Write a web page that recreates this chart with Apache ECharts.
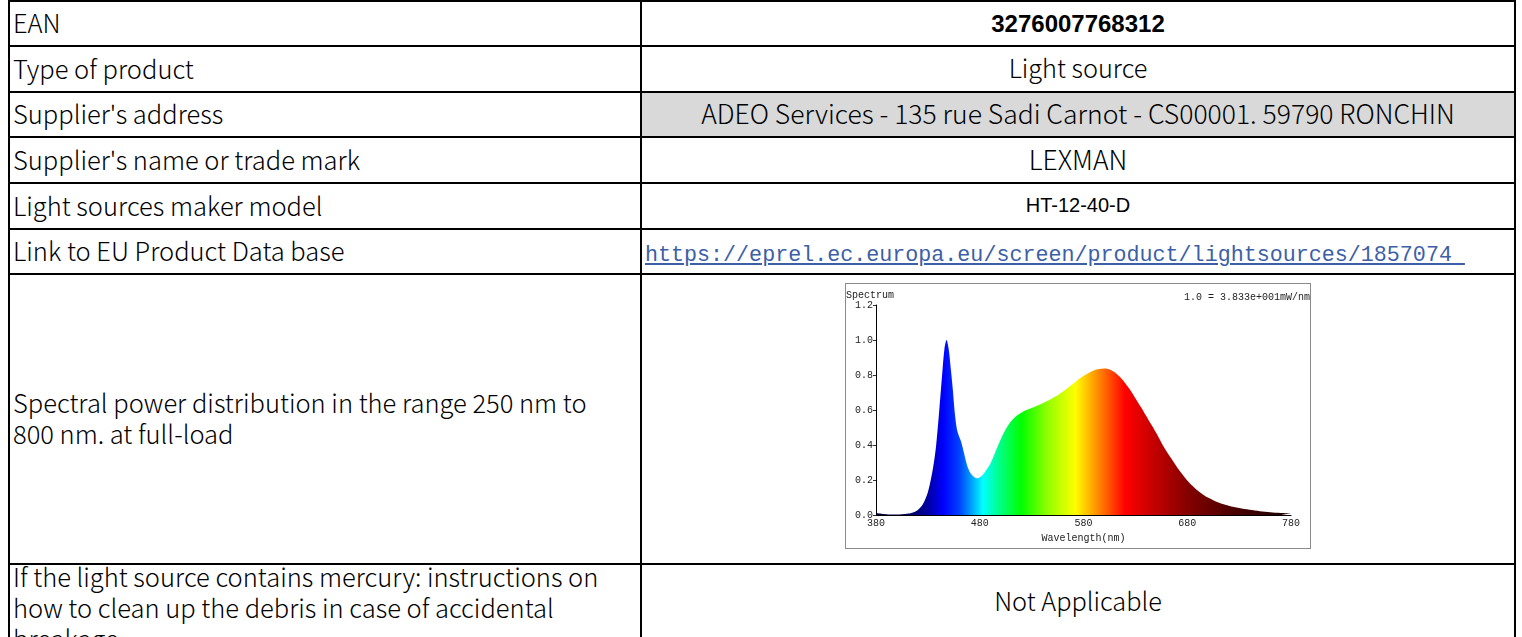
<!DOCTYPE html>
<html>
<head>
<meta charset="utf-8">
<script src="https://cdn.jsdelivr.net/npm/echarts@6/dist/echarts.min.js"></script>
<style>
html,body{margin:0;padding:0;background:#fff;width:1522px;height:637px;overflow:hidden;}
.hl{position:absolute;background:#000;height:2px;}
.vl{position:absolute;background:#000;width:2px;}
.cell{position:absolute;display:flex;align-items:center;box-sizing:border-box;}
.left{font-family:"Noto Sans CJK SC","Noto Sans",sans-serif;font-weight:300;font-size:25.5px;color:#000;padding-left:3px;padding-bottom:6px;line-height:31px;}
.left span{display:block;max-width:605px;}
.right{justify-content:center;font-family:"Noto Sans CJK SC","Noto Sans",sans-serif;font-weight:300;font-size:25.3px;color:#000;text-align:center;padding-bottom:6px;}
#chart{position:absolute;left:845px;top:283px;width:466px;height:266px;border:1px solid #8a8a8a;box-sizing:border-box;background:#fff;}
</style>
</head>
<body>
<div id="table"></div>
<div id="chart"></div>
<script>
// ---- table content ----
const rowLabels = [
  "EAN",
  "Type of product",
  "Supplier's address",
  "Supplier's name or trade mark",
  "Light sources maker model",
  "Link to EU Product Data base",
  "Spectral power distribution in the range 250 nm to 800 nm. at full-load",
  "If the light source contains mercury: instructions on how to clean up the debris in case of accidental breakage"
];
const rowValues = [
  "3276007768312",
  "Light source",
  "ADEO Services - 135 rue Sadi Carnot - CS00001. 59790 RONCHIN",
  "LEXMAN",
  "HT-12-40-D",
  "https://eprel.ec.europa.eu/screen/product/lightsources/1857074 ",
  "",
  "Not Applicable"
];

// ---- spectrum data ----
const wavelengths = [380,385,390,395,400,405,410,415,420,425,430,435,438,441,444,446,448,450,452,454,456,458,460,462,465,468,471,474,477,480,483,486,490,495,500,505,510,515,520,525,530,535,540,545,550,555,560,565,570,575,580,585,590,595,600,605,610,615,620,625,630,635,640,645,650,655,660,665,670,675,680,685,690,695,700,705,710,715,720,725,730,740,750,760,770,780];
const intensity = [0.012,0.008,0.005,0.004,0.004,0.005,0.008,0.014,0.028,0.06,0.13,0.27,0.40,0.60,0.82,0.95,1.0,0.95,0.84,0.72,0.58,0.49,0.45,0.42,0.35,0.28,0.24,0.22,0.21,0.215,0.23,0.255,0.29,0.36,0.43,0.49,0.535,0.565,0.585,0.60,0.612,0.625,0.638,0.652,0.668,0.685,0.705,0.728,0.75,0.775,0.795,0.812,0.826,0.834,0.837,0.832,0.816,0.79,0.755,0.715,0.668,0.62,0.57,0.52,0.47,0.415,0.365,0.32,0.275,0.235,0.198,0.167,0.14,0.118,0.1,0.085,0.072,0.062,0.054,0.046,0.04,0.03,0.022,0.016,0.012,0.01];
const xTicks = [380,480,580,680,780];
const yTicks = [0,0.2,0.4,0.6,0.8,1.0,1.2];

// ---- layout of the table ----
const rowTops = [1,46,92,137,183,229,274,564,641];
const colX = [8,640,1514];
const tbl = document.getElementById('table');
function add(cls, style){const d=document.createElement('div');d.className=cls;Object.assign(d.style,style);tbl.appendChild(d);return d;}

// gray cell
add('cell',{left:(colX[1]+2)+'px',top:(rowTops[2]+1)+'px',width:(colX[2]-colX[1]-2)+'px',height:(rowTops[3]-rowTops[2]-1)+'px',background:'#d9d9d9'});

for(let i=0;i<rowLabels.length;i++){
  const t=rowTops[i], b=rowTops[i+1];
  const l=add('cell left',{left:(colX[0]+2)+'px',top:(t+1)+'px',width:(colX[1]-colX[0]-2)+'px',height:(b-t)+'px'});
  const sp=document.createElement('span');sp.textContent=rowLabels[i];l.appendChild(sp);
  if(i===7){l.style.alignItems='flex-start';l.style.paddingBottom='0px';l.style.top=(t-4)+'px';l.style.height='100px';}
  const r=add('cell right',{left:(colX[1]+2)+'px',top:(t+1)+'px',width:(colX[2]-colX[1]-2)+'px',height:(b-t)+'px'});
  if(i===0){r.style.fontFamily='"Liberation Sans",Arial,sans-serif';r.style.fontWeight='bold';r.style.fontSize='24px';r.style.paddingBottom='2px';}
  if(i===2||i===3){r.style.fontSize='26.5px';}
  if(i===4){r.style.fontFamily='"Liberation Sans",Arial,sans-serif';r.style.fontWeight='normal';r.style.fontSize='20px';r.style.paddingBottom='4px';}
  if(i===5){r.style.justifyContent='flex-start';r.style.paddingLeft='3px';r.style.paddingTop='6px';r.style.paddingBottom='0px';r.style.fontFamily='"Liberation Mono",monospace';r.style.fontWeight='normal';r.style.fontSize='21.7px';r.style.color='#3d5fa6';r.style.textDecoration='underline';r.style.whiteSpace='pre';}
  if(i===7){r.style.height='76px';}
  r.textContent=rowValues[i];
}
// lines
for(let i=0;i<rowTops.length-1;i++){add('hl',{left:colX[0]+'px',top:(rowTops[i]-1)+'px',width:(colX[2]-colX[0]+2)+'px'});}
for(const x of colX){add('vl',{left:x+'px',top:'0px',height:'637px'});}

// ---- chart ----
const chart = echarts.init(document.getElementById('chart'), null, {renderer:'canvas'});
const stops = [
  [380,'#000030'],[410,'#000060'],[430,'#0000a0'],[445,'#0000ff'],[460,'#0040ff'],[472,'#00a0ff'],
  [483,'#00ffff'],[500,'#00ff80'],[520,'#00ff00'],[545,'#90ff00'],[572,'#ffff00'],[590,'#ffa000'],
  [605,'#ff5000'],[620,'#ff0000'],[650,'#c00000'],[683,'#800000'],[720,'#500000'],[780,'#180000']
];
const mono = '"Liberation Mono","DejaVu Sans Mono",monospace';
chart.setOption({
  animation:false,
  backgroundColor:'#fff',
  grid:{left:30,right:19,top:21,bottom:25},
  graphic:[
    {type:'text',left:0,top:6,style:{text:'Spectrum',font:'10px '+mono,fill:'#222'}},
    {type:'text',right:0,top:8,style:{text:'1.0 = 3.833e+001mW/nm',font:'10px '+mono,fill:'#222'}}
  ],
  xAxis:{type:'value',min:380,max:780,interval:100,
    axisLine:{show:true,lineStyle:{color:'#000',width:1}},
    axisTick:{show:false},
    splitLine:{show:false},
    axisLabel:{fontFamily:mono,fontSize:10,color:'#222',margin:3,formatter:v=>xTicks.includes(v)?String(v):''},
    name:'Wavelength(nm)',nameLocation:'middle',nameGap:15,
    nameTextStyle:{fontFamily:mono,fontSize:10,color:'#222'}},
  yAxis:{type:'value',min:0,max:1.2,interval:0.2,
    axisLine:{show:true,lineStyle:{color:'#000',width:1}},
    axisTick:{show:true,length:3,lineStyle:{color:'#333'}},
    splitLine:{show:false},
    axisLabel:{fontFamily:mono,fontSize:10,color:'#222',margin:3,formatter:v=>yTicks.some(t=>Math.abs(t-v)<1e-6)?v.toFixed(1):''}},
  series:[{type:'line',data:wavelengths.map((w,i)=>[w,intensity[i]]),smooth:0.3,showSymbol:false,
    lineStyle:{width:0},
    areaStyle:{opacity:1,origin:'start',color:new echarts.graphic.LinearGradient(0,0,1,0,stops.map(s=>({offset:(s[0]-380)/400,color:s[1]})))}}]
});
</script>
</body>
</html>
